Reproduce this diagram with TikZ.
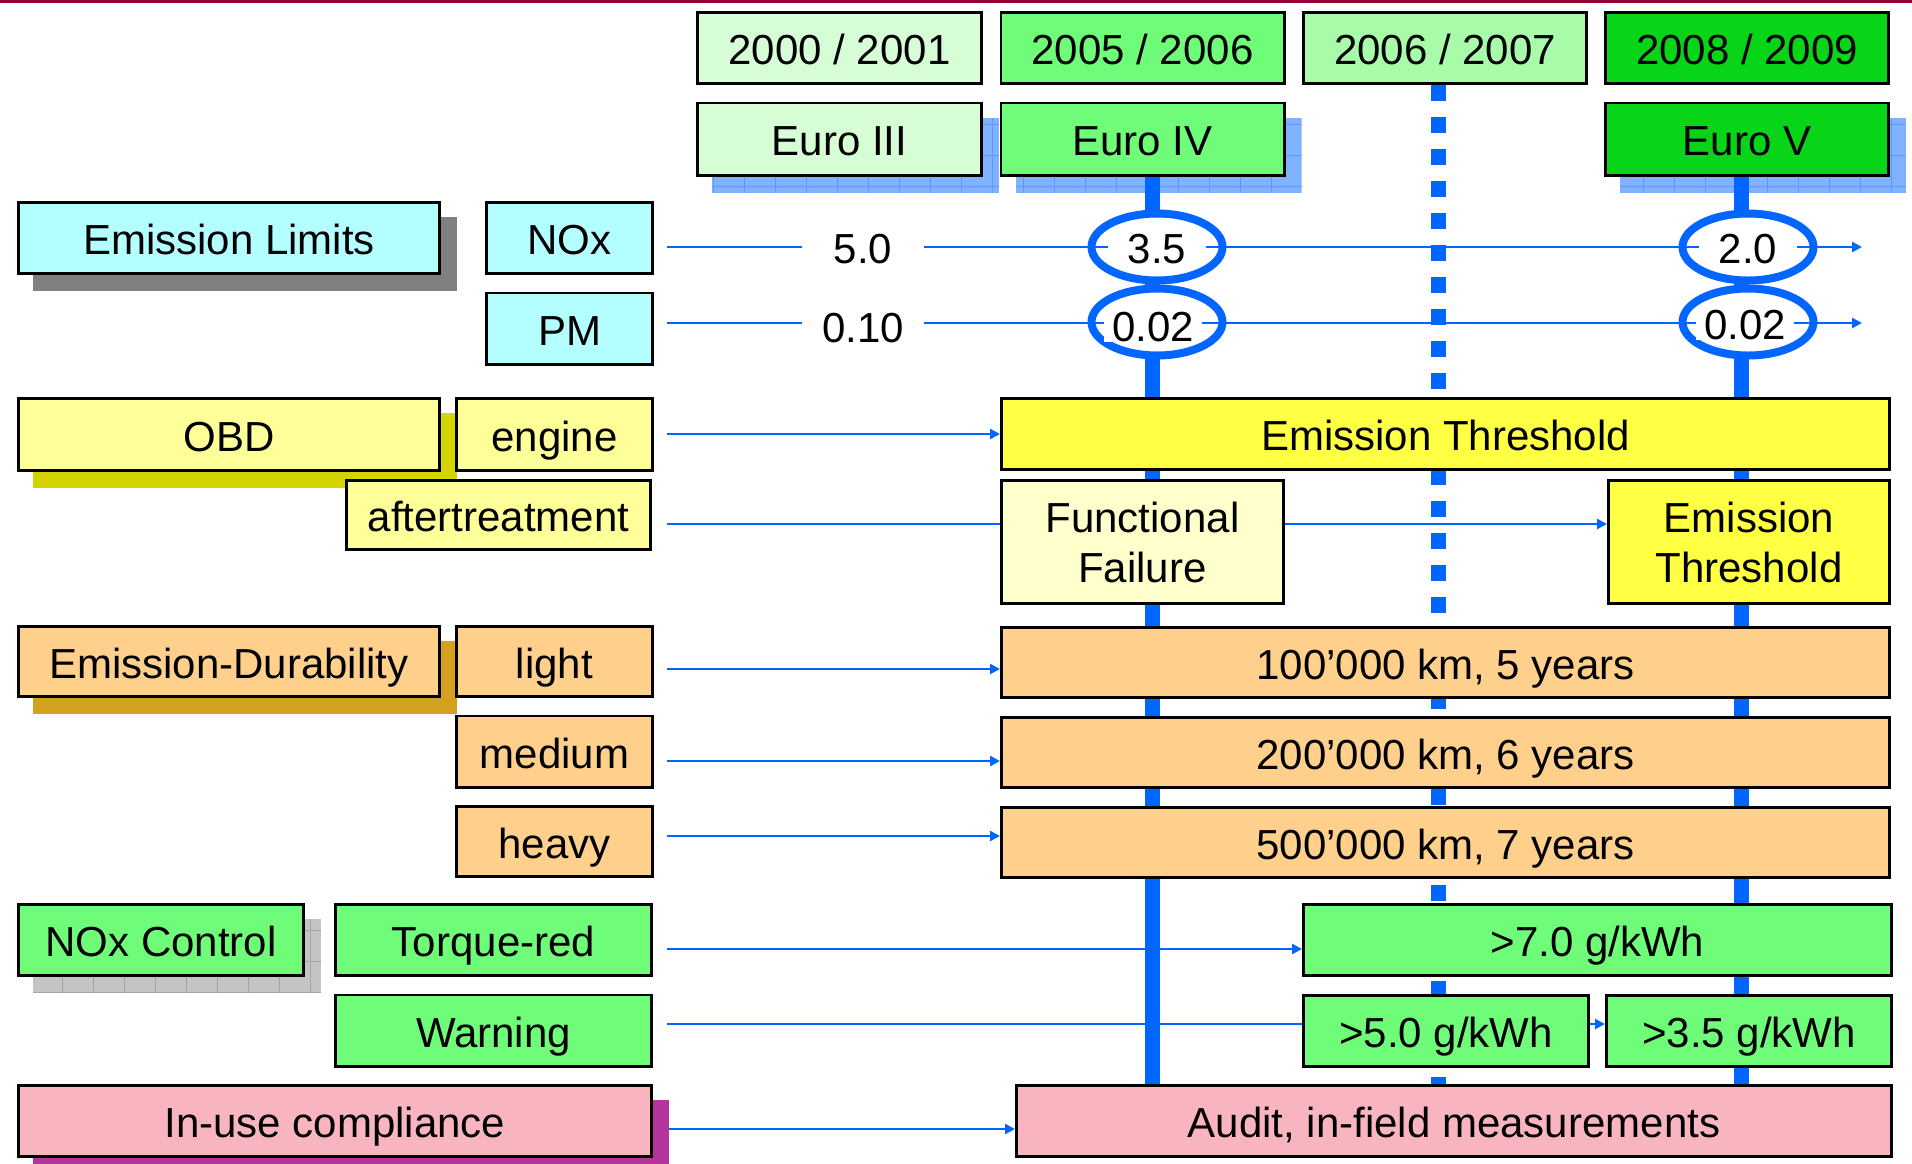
\documentclass[tikz,border=0pt]{standalone}
\usepackage{fontspec}
\setmainfont{Liberation Sans}
\usetikzlibrary{arrows.meta,positioning,shapes.geometric}
\definecolor{lblue}{HTML}{0066FF}
\definecolor{darkred}{HTML}{990033}
\definecolor{euIII}{HTML}{D6FDD6}
\definecolor{euIV}{HTML}{6FFC79}
\definecolor{yrC}{HTML}{A8FBA8}
\definecolor{euV}{HTML}{08D418}
\definecolor{limcyan}{HTML}{B3FFFF}
\definecolor{obdyel}{HTML}{FFFF99}
\definecolor{thryel}{HTML}{FFFF44}
\definecolor{failyel}{HTML}{FFFFCC}
\definecolor{durorange}{HTML}{FFCF8C}
\definecolor{usepink}{HTML}{F8B5C0}
\definecolor{shgray}{HTML}{808080}
\definecolor{shobd}{HTML}{D4D400}
\definecolor{shdur}{HTML}{D4A020}
\definecolor{shuse}{HTML}{B5359F}
\definecolor{shblue}{HTML}{80B2FF}
\definecolor{gridblue}{HTML}{5C98FF}
\definecolor{shlight}{HTML}{C4C4C4}
\definecolor{gridgray}{HTML}{A4A4A4}
\pgfdeclarelayer{back}\pgfdeclarelayer{mid}\pgfsetlayers{back,mid,main}
\tikzset{boxbase/.style={draw,line width=1.3pt,fill=#1,inner sep=0pt,font=\fontsize{21}{25}\selectfont},
  box/.style={boxbase=#1,text height=21pt,text depth=4.5pt},box2/.style={boxbase=#1,align=center},
  sz/.style 2 args={minimum width=(#1-2.6)*0.5pt,minimum height=(#2-2.6)*0.5pt},
  link/.style={draw=lblue,line width=1.3pt},flow/.style={link,-{Triangle[length=5pt,width=5pt]}},
  stage/.style={draw=lblue,line width=7.5pt},
  ring/.style={ellipse,draw=lblue,line width=4pt,fill=white,minimum width=65.5pt,minimum height=33.5pt,inner sep=0pt},
  val/.style={fill=white,inner xsep=10pt,inner ysep=0pt,font=\fontsize{21}{25}\selectfont}}
\newcommand\shadowrect[2]{\fill[#2] ([shift={(8pt,-8pt)}]#1.south west) rectangle ([shift={(8pt,-8pt)}]#1.north east);}
\newcommand\gridshadow[3]{\begin{scope}
  \clip ([shift={(8pt,-8pt)}]#1.south west) rectangle ([shift={(8pt,-8pt)}]#1.north east);
  \fill[#2] ([shift={(8pt,-8pt)}]#1.south west) rectangle ([shift={(8pt,-8pt)}]#1.north east);
  \draw[#3,line width=0.5pt,step=15.5pt] ([shift={(8pt,-8pt)}]#1.south west) grid ([shift={(8pt,-8pt)}]#1.north east);
  \end{scope}}

\begin{document}
\begin{tikzpicture}[x=0.5pt,y=-0.5pt,node distance=8.25pt]
\useasboundingbox (0,0) rectangle (1912,1163);
\begin{pgfonlayer}{back}\fill[white] (0,0) rectangle (1912,1163);\end{pgfonlayer}
\draw[darkred,line width=1.5pt] (0,1) -- (1912,1);
\node[box=euIII,sz={287}{74}] (y1) at (839.5,48) {2000 / 2001};
\node[box=euIV,sz={286}{74}] (y2) at (1142.5,48) {2005 / 2006};
\node[box=yrC,sz={286}{74}] (y3) at (1445,48) {2006 / 2007};
\node[box=euV,sz={286}{74}] (y4) at (1747,48) {2008 / 2009};
\node[box=euIII,sz={287}{75},below=of y1] (e3) {Euro III};
\node[box=euIV,sz={286}{75},below=of y2] (e4) {Euro IV};
\node[box=euV,sz={286}{75},below=of y4] (e5) {Euro V};
\node[box=limcyan,sz={424}{74}] (lim) at (229,238) {Emission Limits};
\node[box=limcyan,sz={169}{74}] (nox) at (569.5,238) {NOx};
\node[box=limcyan,sz={169}{74},below=of nox] (pm) {PM};
\node[box=obdyel,sz={424}{75}] (obd) at (229,434.5) {OBD};
\node[box=obdyel,sz={199}{75}] (eng) at (554.5,434.5) {engine};
\node[box=obdyel,sz={307}{72}] (aft) at (498.5,515) {aftertreatment};
\node[box=thryel,sz={891}{74}] (et1) at (1445.5,434) {Emission Threshold};
\node[box2=failyel,sz={285}{126}] (ff) at (1142.5,542) {Functional\\Failure};
\node[box2=thryel,sz={284}{126}] (et2) at (1749,542) {Emission\\Threshold};
\node[box=durorange,sz={424}{73}] (dur) at (229,661.5) {Emission-Durability};
\node[box=durorange,sz={199}{73}] (lgt) at (554.5,661.5) {light};
\node[box=durorange,sz={199}{74},below=of lgt] (med) {medium};
\node[box=durorange,sz={199}{73},below=of med] (hvy) {heavy};
\node[box=durorange,sz={891}{73}] (km1) at (1445.5,662.5) {100’000 km, 5 years};
\node[box=durorange,sz={891}{73}] (km2) at (1445.5,752.5) {200’000 km, 6 years};
\node[box=durorange,sz={891}{73}] (km3) at (1445.5,842.5) {500’000 km, 7 years};
\node[box=euIV,sz={288}{74}] (nxc) at (161,940) {NOx Control};
\node[box=euIV,sz={319}{74}] (trq) at (493.5,940) {Torque-red};
\node[box=euIV,sz={319}{74},below=of trq] (wrn) {Warning};
\node[box=euIV,sz={591}{74}] (g70) at (1597.5,940) {>7.0 g/kWh};
\node[box=euIV,sz={288}{74}] (g50) at (1446,1031) {>5.0 g/kWh};
\node[box=euIV,sz={288}{74},right=7.5pt of g50] (g35) {>3.5 g/kWh};
\node[box=usepink,sz={636}{74}] (use) at (335,1121) {In-use compliance};
\node[box=usepink,sz={878}{74}] (aud) at (1454,1121) {Audit, in-field measurements};
\coordinate (xIV) at (1152,0);\coordinate (xC) at (1438,0);\coordinate (xV) at (1741,0);
\coordinate (noxa) at (667,247);\coordinate (noxb) at (1862,247);
\coordinate (pma) at (667,323);\coordinate (pmb) at (1862,323);
\coordinate (engs) at (667,434);\coordinate (afts) at (667,524);
\coordinate (lgts) at (667,669);\coordinate (meds) at (667,761);\coordinate (hvys) at (667,836);
\coordinate (trqs) at (667,949);\coordinate (wrns) at (667,1024);\coordinate (uses) at (669,1129);
\begin{pgfonlayer}{back}
\shadowrect{lim}{shgray}\shadowrect{obd}{shobd}\shadowrect{dur}{shdur}\shadowrect{use}{shuse}
\gridshadow{e3}{shblue}{gridblue}\gridshadow{e4}{shblue}{gridblue}\gridshadow{e5}{shblue}{gridblue}
\gridshadow{nxc}{shlight}{gridgray}
\draw[flow] (engs) -- (engs -| et1.west);
\draw[link] (afts) -- (afts -| ff.west);\draw[flow] (afts -| ff.east) -- (afts -| et2.west);
\draw[flow] (lgts) -- (lgts -| km1.west);\draw[flow] (meds) -- (meds -| km2.west);\draw[flow] (hvys) -- (hvys -| km3.west);
\draw[flow] (trqs) -- (trqs -| g70.west);
\draw[link] (wrns) -- (wrns -| g50.west);\draw[flow] (wrns -| g50.east) -- (wrns -| g35.west);
\draw[flow] (uses) -- (uses -| aud.west);
\end{pgfonlayer}
\begin{pgfonlayer}{mid}
\draw[stage] (xIV |- e4.south) -- (xIV |- aud.north);
\draw[stage,dash pattern=on 8pt off 8pt] (xC |- y3.south) -- (xC |- aud.north);
\draw[stage] (xV |- e5.south) -- (xV |- aud.north);
\end{pgfonlayer}
\node[ring] (r35) at (1157,247) {};\node[ring] (r02a) at (1157,322) {};
\node[ring] (r20) at (1748,247) {};\node[ring] (r02b) at (1748,322) {};
\draw[flow] (noxa) -- (noxb);\draw[flow] (pma) -- (pmb);
\node[val,minimum width=61pt] (v50) at (863,249) {5.0};
\node[val,minimum width=61pt] (v010) at (863,328) {0.10};
\node[val] (v35) at (1157,249) {3.5};\node[val,inner xsep=4pt] (v02a) at (1153,327) {0.02};
\node[val] (v20) at (1748,249) {2.0};\node[val,inner xsep=4pt] (v02b) at (1745,325) {0.02};
\end{tikzpicture}
\end{document}
